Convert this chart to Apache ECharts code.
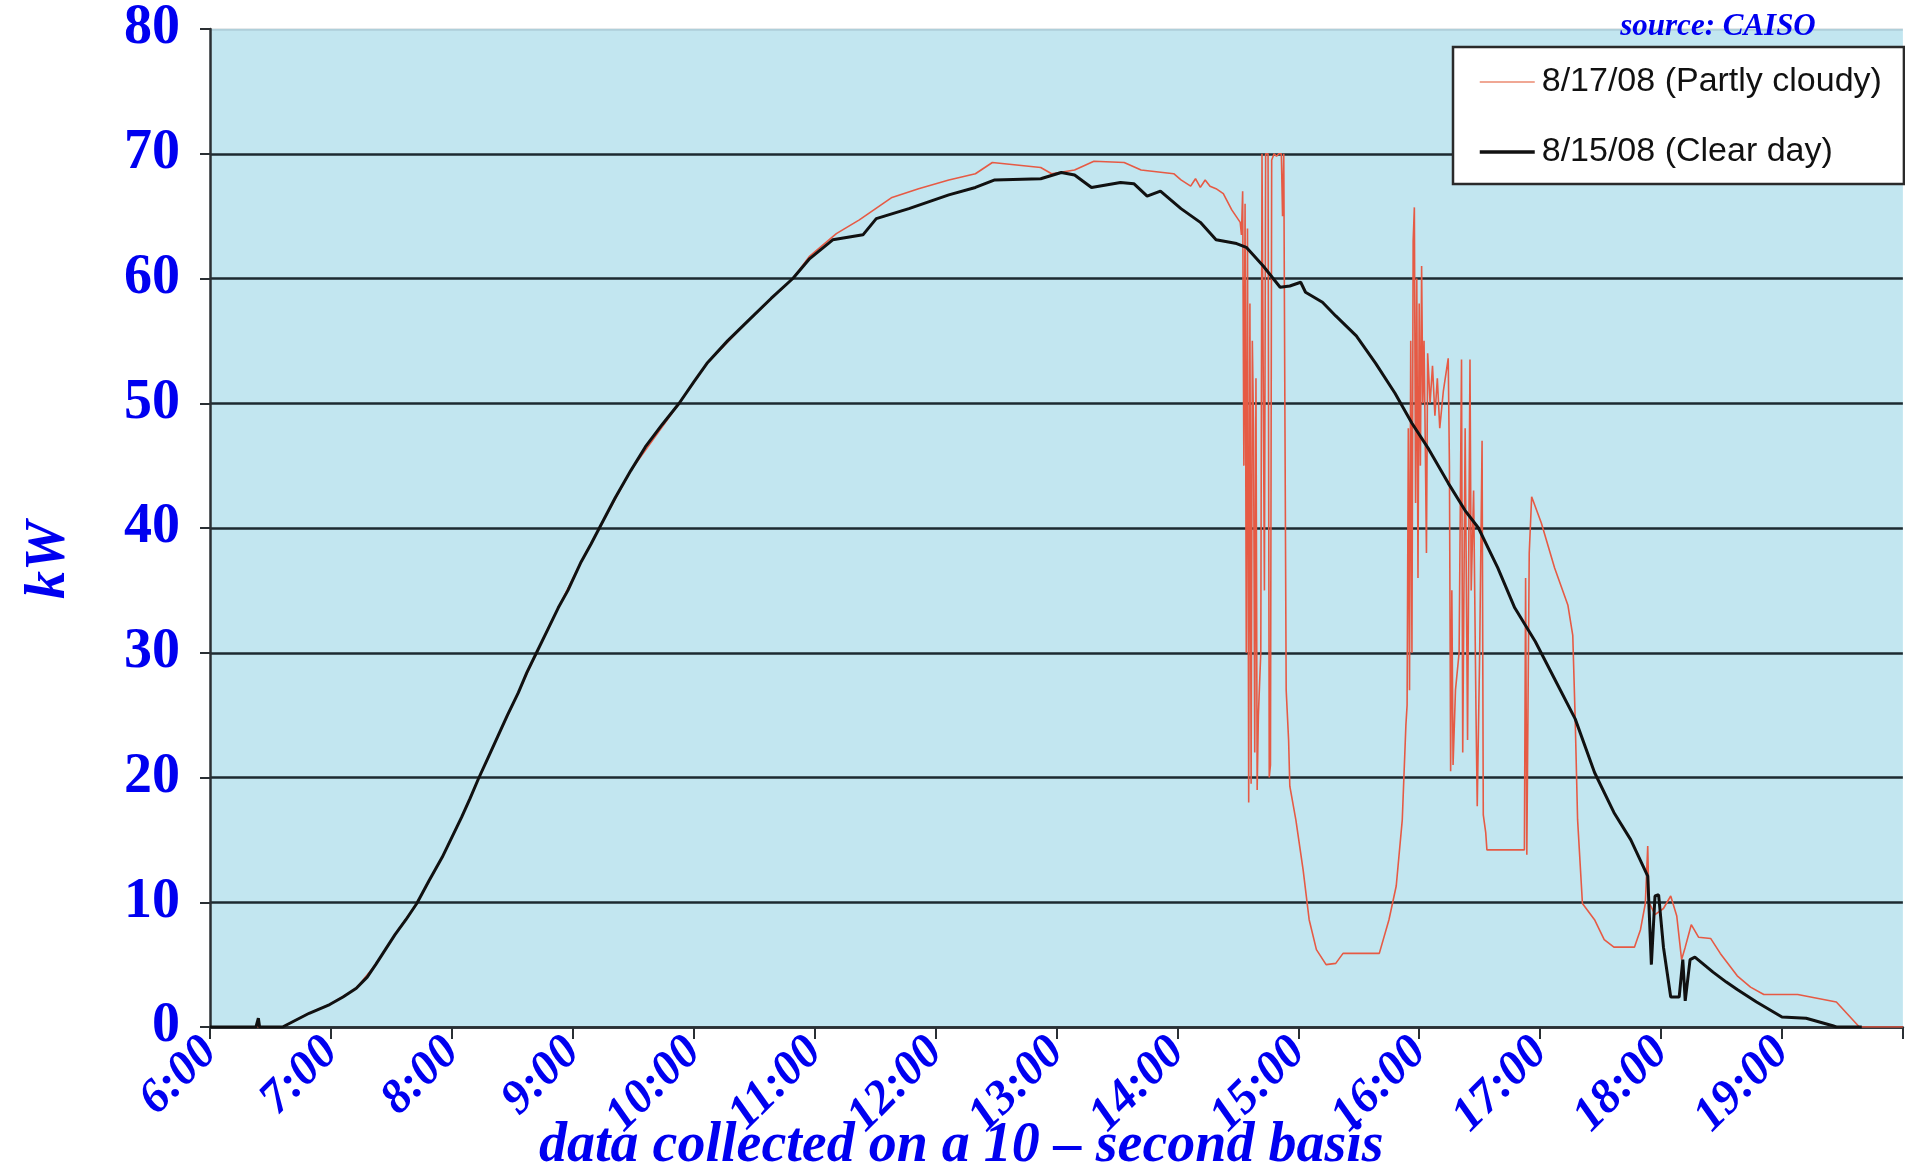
<!DOCTYPE html>
<html>
<head>
<meta charset="utf-8">
<script src="https://cdn.jsdelivr.net/npm/echarts@6/dist/echarts.min.js"></script>
<style>
html,body{margin:0;padding:0;background:#fff;}
#chart{width:1905px;height:1172px;}
</style>
</head>
<body>
<div id="chart"></div>
<script>
// Hours of day (decimal) and kW
const clearHours = [6.00,6.38,6.40,6.41,6.60,6.70,6.82,6.99,7.10,7.21,7.30,7.37,7.45,7.53,7.62,7.71,7.81,7.92,8.00,8.08,8.15,8.22,8.30,8.38,8.46,8.55,8.62,8.70,8.79,8.88,8.96,9.07,9.15,9.22,9.35,9.48,9.60,9.74,9.88,10.00,10.11,10.28,10.46,10.64,10.82,10.96,11.15,11.40,11.51,11.78,12.11,12.33,12.49,12.87,13.04,13.15,13.29,13.53,13.64,13.75,13.86,14.03,14.19,14.32,14.49,14.57,14.71,14.85,14.93,15.02,15.06,15.20,15.31,15.48,15.64,15.80,15.94,16.08,16.24,16.38,16.49,16.65,16.79,16.96,17.12,17.29,17.45,17.61,17.75,17.89,17.92,17.95,17.98,18.02,18.08,18.15,18.18,18.20,18.24,18.28,18.43,18.54,18.63,18.79,19.00,19.20,19.42,19.45,19.66];
const clearKW    = [0,0,0.7,0,0,0.5,1.1,1.8,2.4,3.1,4.0,5.0,6.2,7.4,8.6,9.9,11.7,13.6,15.2,16.8,18.3,19.9,21.6,23.3,25.0,26.8,28.4,30.0,31.8,33.6,35.0,37.3,38.7,40.0,42.4,44.6,46.5,48.3,50.0,51.7,53.2,55.0,56.7,58.4,60.0,61.6,63.1,63.5,64.8,65.6,66.7,67.3,67.9,68.0,68.5,68.3,67.3,67.7,67.6,66.6,67.0,65.6,64.5,63.1,62.8,62.5,61.0,59.3,59.4,59.7,58.9,58.1,57.0,55.4,53.2,50.8,48.4,46.3,43.6,41.4,40.0,36.8,33.6,30.9,27.9,24.7,20.4,17.2,15.0,12.1,5.0,10.5,10.6,6.4,2.4,2.4,5.4,2.1,5.4,5.6,4.4,3.6,3.0,2.0,0.8,0.7,0.1,0,0];

const cloudyHours = [6.00,6.60,6.82,6.99,7.21,7.37,7.53,7.71,7.92,8.08,8.22,8.38,8.55,8.70,8.88,9.07,9.22,9.48,9.88,10.11,10.46,10.82,10.96,11.18,11.37,11.64,11.86,12.11,12.33,12.47,12.87,12.96,13.15,13.31,13.56,13.70,13.97,14.03,14.11,14.15,14.19,14.23,14.27,14.32,14.38,14.45,14.52,
  14.53,14.54,14.55,14.56,14.57,14.58,14.59,14.60,14.61,14.62,14.63,14.64,14.65,14.66,14.67,14.69,14.70,14.71,14.72,14.73,14.75,14.76,14.77,14.78,14.80,14.82,14.84,14.86,14.87,14.88,14.89,14.90,14.92,14.93,14.98,15.04,15.09,15.15,15.23,15.31,15.37,15.67,15.75,15.81,15.86,15.89,15.90,
  15.91,15.92,15.93,15.94,15.95,15.96,15.97,15.98,15.99,16.00,16.01,16.02,16.03,16.04,16.05,16.06,16.07,16.09,16.11,16.13,16.15,16.17,16.20,16.24,16.25,16.26,16.27,16.28,16.30,16.33,16.35,16.36,16.38,16.40,16.42,16.43,16.45,16.47,16.48,16.50,16.52,16.53,16.55,16.56,16.87,16.88,16.89,16.91,16.93,
  17.01,17.12,17.23,17.27,17.29,17.31,17.35,17.45,17.53,17.61,17.78,17.83,17.87,17.89,17.90,17.95,18.02,18.08,18.13,18.17,18.20,18.25,18.31,18.41,18.49,18.63,18.74,18.85,19.13,19.45,19.64,20.00];
const cloudyKW    = [0,0,1.1,1.8,3.1,5.0,7.4,9.9,13.6,16.8,19.9,23.3,26.8,30.0,33.6,37.3,40.0,44.6,50.0,53.2,56.7,60.0,61.8,63.6,64.7,66.5,67.2,67.9,68.4,69.3,68.9,68.4,68.7,69.4,69.3,68.7,68.4,67.9,67.4,68.0,67.3,67.9,67.4,67.2,66.8,65.5,64.5,
  63.5,67.0,45.0,66.0,30.0,64.0,18.0,58.0,19.5,55.0,48.0,22.0,52.0,19.0,25.0,30.0,70.0,70.0,35.0,70.0,70.0,20.0,21.0,69.5,70.0,69.8,70.0,70.0,65.0,70.0,48.0,27.0,23.0,19.3,16.6,12.6,8.6,6.2,5.0,5.1,5.9,5.9,8.6,11.3,16.6,24.2,25.8,
  48.0,27.0,55.0,30.0,63.0,65.7,42.0,60.0,36.0,58.0,45.0,61.0,50.0,55.0,47.0,38.0,54.0,50.0,53.0,49.0,52.0,48.0,51.0,53.6,45.0,20.5,35.0,21.0,27.0,30.0,53.5,22.0,48.0,23.0,53.5,35.0,43.0,25.0,17.7,30.0,47.0,17.0,15.6,14.2,14.2,36.0,13.8,38.0,42.5,
  40.4,36.8,33.8,31.4,24.7,16.6,9.9,8.6,7.0,6.4,6.4,7.8,9.9,14.5,10.0,9.0,9.5,10.5,8.9,5.4,6.4,8.2,7.2,7.1,5.9,4.1,3.2,2.6,2.6,2.0,0,0];

const yTicks = [0,10,20,30,40,50,60,70,80];
const hourTicks = [6,7,8,9,10,11,12,13,14,15,16,17,18,19];
const seriesNames = ['8/17/08 (Partly cloudy)', '8/15/08 (Clear day)'];

const zip = (xs, ys) => xs.map((x, i) => [x, ys[i]]);
const BLUE = '#0000f0';
const GRIDC = '#1c2a30';

const chart = echarts.init(document.getElementById('chart'), null, {renderer: 'canvas'});
chart.setOption({
  animation: false,
  backgroundColor: '#ffffff',
  grid: {left: 210, top: 29, width: 1704, height: 998, show: true, backgroundColor: '#c2e6f0', borderWidth: 0},
  xAxis: {
    type: 'value', min: 6, max: 20, interval: 1,
    axisLine: {show: true, onZero: false, lineStyle: {color: '#2a2f33', width: 2.5}},
    axisTick: {show: true, length: 12, lineStyle: {color: '#2a2f33', width: 2}},
    splitLine: {show: false},
    axisLabel: {
      rotate: 45, margin: 18,
      color: BLUE, fontFamily: '"Liberation Serif", "Times New Roman", serif',
      fontWeight: 'bold', fontStyle: 'italic', fontSize: 48,
      formatter: v => hourTicks.indexOf(v) >= 0 ? v + ':00' : ''
    }
  },
  yAxis: {
    type: 'value', min: 0, max: 80, interval: 10,
    axisLine: {show: true, lineStyle: {color: '#2a2f33', width: 2.5}},
    axisTick: {show: true, length: 10, lineStyle: {color: '#2a2f33', width: 2}},
    splitLine: {show: true, lineStyle: {color: [GRIDC,GRIDC,GRIDC,GRIDC,GRIDC,GRIDC,GRIDC,GRIDC,'rgba(120,140,150,0.25)'], width: 2.5}},
    axisLabel: {
      margin: 30, color: BLUE,
      fontFamily: '"Liberation Serif", "Times New Roman", serif',
      fontWeight: 'bold', fontSize: 56,
      formatter: v => yTicks.indexOf(v) >= 0 ? String(v) : ''
    }
  },
  legend: {
    orient: 'vertical', left: 1453, top: 47,
    padding: [15, 22, 12, 25], itemGap: 30,
    itemWidth: 55, itemHeight: 22,
    itemStyle: {opacity: 0},
    backgroundColor: '#ffffff', borderColor: '#2a2a2a', borderWidth: 2.5, borderRadius: 0,
    data: [
      {name: seriesNames[0], lineStyle: {width: 1.6, color: '#eb8a70'}},
      {name: seriesNames[1], lineStyle: {width: 3.5, color: '#111111'}}
    ],
    textStyle: {fontFamily: '"Liberation Sans", Arial, sans-serif', fontSize: 34, lineHeight: 40, color: '#111111', padding: [0,0,0,2]}
  },
  graphic: [
    {type: 'text', x: 50, y: 560, rotation: Math.PI / 2, z: 10,
     style: {text: 'kW', font: 'italic bold 56px "Liberation Serif", serif', fill: BLUE, align: 'center', verticalAlign: 'middle'}},
    {type: 'text', x: 539, y: 1147, z: 10,
     style: {text: 'data collected on a 10 \u2013 second basis', font: 'italic bold 56px "Liberation Serif", serif', fill: BLUE, align: 'left', verticalAlign: 'middle'}},
    {type: 'text', x: 1718, y: 27, z: 10,
     style: {text: 'source: CAISO', font: 'italic bold 31px "Liberation Serif", serif', fill: BLUE, align: 'center', verticalAlign: 'middle'}}
  ],
  series: [
    {name: seriesNames[0], type: 'line', symbol: 'none', data: zip(cloudyHours, cloudyKW),
     lineStyle: {color: '#e65a44', width: 1.6}, itemStyle: {color: '#e65a44'}, z: 2},
    {name: seriesNames[1], type: 'line', symbol: 'none', data: zip(clearHours, clearKW),
     lineStyle: {color: '#111111', width: 3}, itemStyle: {color: '#111111'}, z: 3}
  ]
});
</script>
</body>
</html>
